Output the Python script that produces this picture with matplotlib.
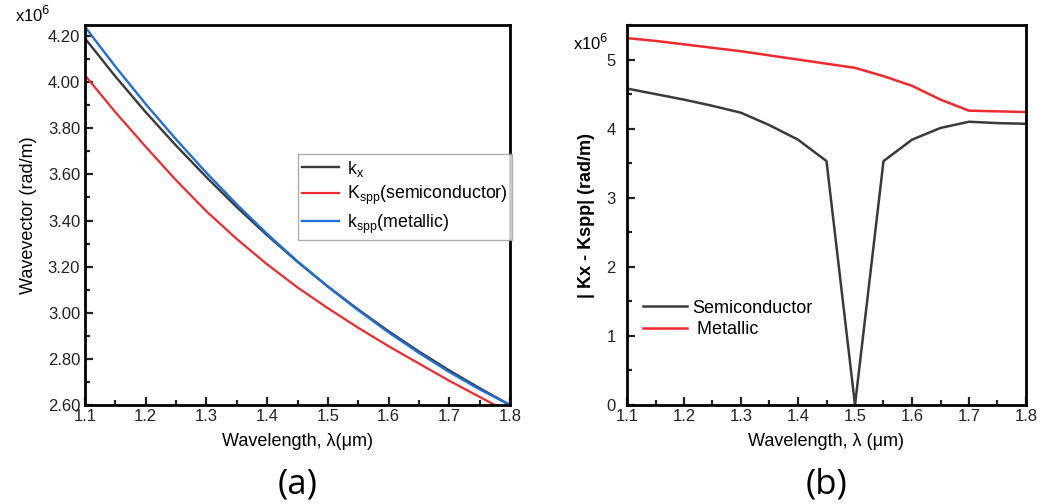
import numpy as np
import matplotlib.pyplot as plt
from matplotlib.ticker import MultipleLocator, FormatStrFormatter

plt.rcParams['font.family'] = ['Liberation Sans', 'DejaVu Sans']

# wavelength grid (um)
wl = [1.10, 1.15, 1.20, 1.25, 1.30, 1.35, 1.40, 1.45, 1.50, 1.55, 1.60, 1.65, 1.70, 1.75, 1.80]

# (a) wavevectors, x1e6 rad/m
kx = [4.190, 4.025, 3.870, 3.725, 3.588, 3.458, 3.336, 3.221, 3.114, 3.014, 2.920, 2.832, 2.750, 2.673, 2.600]
kspp_semi = [4.030, 3.870, 3.720, 3.575, 3.440, 3.320, 3.210, 3.110, 3.020, 2.935, 2.855, 2.780, 2.705, 2.635, 2.565]
kspp_metal = [4.240, 4.068, 3.905, 3.752, 3.607, 3.470, 3.342, 3.223, 3.113, 3.011, 2.915, 2.826, 2.743, 2.668, 2.600]

# (b) mismatch |kx - kspp|, x1e6 rad/m
diff_semi = [4.58, 4.50, 4.42, 4.33, 4.23, 4.05, 3.84, 3.53, 0.0, 3.53, 3.84, 4.01, 4.10, 4.08, 4.07]
diff_metal = [5.31, 5.27, 5.22, 5.17, 5.12, 5.06, 5.00, 4.94, 4.88, 4.76, 4.62, 4.42, 4.26, 4.25, 4.24]

c_black = '#3a3a3a'
c_red = '#ee2a2f'
c_blue = '#1f6fd8'

fig = plt.figure(figsize=(10.51, 5.04), dpi=100)
ax1 = fig.add_axes([85 / 1051, 1 - 405 / 504, 425 / 1051, 380 / 504])
ax2 = fig.add_axes([627 / 1051, 1 - 405 / 504, 399 / 1051, 380 / 504])


def style(ax):
    for s in ax.spines.values():
        s.set_linewidth(2)
    ax.tick_params(which='both', direction='in', top=False, right=False,
                   labelsize=12, width=1.6, colors='#222222')
    ax.tick_params(which='major', length=6)
    ax.tick_params(which='minor', length=3.5)
    ax.tick_params(axis='x', pad=3)
    ax.xaxis.set_major_locator(MultipleLocator(0.1))
    ax.xaxis.set_minor_locator(MultipleLocator(0.05))
    ax.xaxis.set_major_formatter(FormatStrFormatter('%.1f'))
    ax.set_xlim(1.1, 1.8)


# panel (a)
ax1.plot(wl, kx, color=c_black, lw=1.7, label=r'k$_\mathregular{x}$')
ax1.plot(wl, kspp_semi, color=c_red, lw=1.6, label=r'K$_\mathregular{spp}$(semiconductor)')
ax1.plot(wl, kspp_metal, color=c_blue, lw=1.7, label=r'k$_\mathregular{spp}$(metallic)')
style(ax1)
ax1.set_ylim(2.6, 4.248)
ax1.yaxis.set_major_locator(MultipleLocator(0.2))
ax1.yaxis.set_minor_locator(MultipleLocator(0.1))
ax1.yaxis.set_major_formatter(FormatStrFormatter('%.2f'))
ax1.set_ylabel('Wavevector (rad/m)', fontsize=13, labelpad=8)
ax1.set_xlabel('Wavelength, λ(μm)', fontsize=13, labelpad=6)
ax1.text(-0.165, 1.0, r'x10$^6$', transform=ax1.transAxes, fontsize=12, va='bottom')
ax1.legend(loc='upper left', bbox_to_anchor=(0.5, 0.66), fontsize=12.8,
           handlelength=2.1, handletextpad=0.45, labelspacing=0.3,
           frameon=True, fancybox=False, edgecolor='#999999', borderpad=0.25,
           borderaxespad=0)
fig.text(ax1.get_position().x0 + ax1.get_position().width / 2, 0.005, '(a)',
         family='Open Sans', fontsize=25, ha='center', va='bottom')

# panel (b)
ax2.plot(wl, diff_semi, color=c_black, lw=1.8, label='Semiconductor')
ax2.plot(wl, diff_metal, color=c_red, lw=1.8, label=' Metallic')
style(ax2)
ax2.set_ylim(0, 5.5)
ax2.yaxis.set_major_locator(MultipleLocator(1))
ax2.yaxis.set_minor_locator(MultipleLocator(0.5))
ax2.yaxis.set_major_formatter(FormatStrFormatter('%d'))
ax2.tick_params(axis='y', pad=8)
ax2.set_ylabel('| Kx - Kspp| (rad/m)', fontsize=13, fontweight='bold', labelpad=8)
ax2.set_xlabel('Wavelength, λ (μm)', fontsize=13, labelpad=6)
ax2.text(-0.135, 0.925, r'x10$^6$', transform=ax2.transAxes, fontsize=12, va='bottom')
ax2.legend(loc='upper left', bbox_to_anchor=(0.0, 0.32), fontsize=13,
           handlelength=2.4, handletextpad=0.3, labelspacing=0.25, frameon=False)
fig.text(ax2.get_position().x0 + ax2.get_position().width / 2, 0.005, '(b)',
         family='Open Sans', fontsize=25, ha='center', va='bottom')

fig.savefig('out.png', dpi=100)
